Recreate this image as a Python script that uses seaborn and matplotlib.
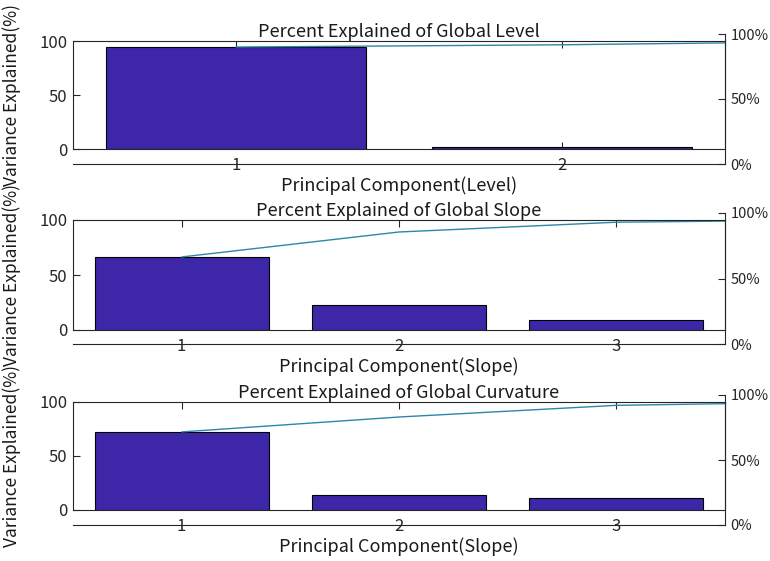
import numpy as np
import pandas as pd
import matplotlib
matplotlib.use("Agg")
import matplotlib.pyplot as plt
from matplotlib.ticker import FuncFormatter
import seaborn as sns

# Percent of variance explained by each principal component
level_explained = [94.4, 2.1, 3.5]
slope_explained = [66.4, 22.7, 8.9, 2.0]
curvature_explained = [72.3, 13.8, 10.8, 3.1]

titles = [
    "Percent Explained of Global Level",
    "Percent Explained of Global Slope",
    "Percent Explained of Global Curvature",
]
xlabels = [
    "Principal Component(Level)",
    "Principal Component(Slope)",
    "Principal Component(Slope)",
]
ylabel = "Variance Explained(%)"
pct_ticks = [0, 50, 100]
value_ticks = [0, 50, 100]

BAR_COLOR = "#3E26A8"
LINE_COLOR = "#2F86A8"
THRESHOLD = 95.0

sns.set_theme(style="white")
plt.rcParams["font.family"] = ["Noto Sans CJK JP", "DejaVu Sans"]
plt.rcParams["axes.edgecolor"] = "#262626"
plt.rcParams["axes.linewidth"] = 0.8

W, H = 770, 561
fig = plt.figure(figsize=(W / 100, H / 100), dpi=100)

# panel geometry in pixels: (box top, box bottom, outer top, outer bottom)
panels = [
    (41, 149, 34, 164),
    (220, 330, 213, 344),
    (402, 510, 395, 525),
]
X0, X1 = 73, 725

datasets = [level_explained, slope_explained, curvature_explained]

for data, title, xlab, (bt, bb, ot, ob) in zip(datasets, titles, xlabels, panels):
    vals = np.asarray(data, dtype=float)
    cum = np.cumsum(vals)
    # pareto: keep bars until the cumulative share reaches the threshold
    n = int(np.argmax(cum >= THRESHOLD)) + 1

    # outer axes carrying the percentage scale
    ax_r = fig.add_axes([X0 / W, 1 - ob / H, (X1 - X0) / W, (ob - ot) / H])
    ax_r.set_xlim(-0.5, n - 0.5)
    ax_r.set_ylim(0, 100)
    ax_r.set_facecolor("white")
    for side in ("top", "left"):
        ax_r.spines[side].set_visible(False)
    ax_r.set_xticks([])
    ax_r.yaxis.tick_right()
    ax_r.set_yticks(pct_ticks)
    ax_r.yaxis.set_major_formatter(FuncFormatter(lambda v, p: f"{v:.0f}%"))
    ax_r.tick_params(axis="y", direction="in", length=5, width=0.8,
                     labelsize=10.5, pad=4, colors="#262626", right=True)

    # inner axes with the bars
    ax = fig.add_axes([X0 / W, 1 - bb / H, (X1 - X0) / W, (bb - bt) / H])
    ax.set_facecolor("none")
    df = pd.DataFrame({"pc": [str(i + 1) for i in range(n)], "pct": vals[:n]})
    sns.barplot(data=df, x="pc", y="pct", ax=ax, color=BAR_COLOR,
                saturation=1, width=0.8, edgecolor="black", linewidth=0.8)
    line_df = pd.DataFrame({"pos": np.arange(len(cum)), "cum": cum})
    sns.lineplot(data=line_df, x="pos", y="cum", ax=ax, color=LINE_COLOR,
                 linewidth=1.0, clip_on=True)
    ax.set_xlim(-0.5, n - 0.5)
    ax.set_ylim(0, 100)
    ax.set_xticks(range(n))
    ax.set_xticklabels([str(i + 1) for i in range(n)])
    ax.set_yticks(value_ticks)
    ax.tick_params(axis="both", direction="in", length=5, width=0.8,
                   labelsize=12, colors="#262626", top=True, bottom=True,
                   left=True)
    ax.tick_params(axis="x", pad=6)
    ax.tick_params(axis="y", pad=4)
    for s in ax.spines.values():
        s.set_visible(True)
        s.set_color("#262626")
        s.set_linewidth(0.8)

    ax.set_title(title, fontsize=13, pad=3, color="#1a1a1a")
    ax.set_xlabel(xlab, fontsize=13, color="#1a1a1a")
    ax.xaxis.set_label_coords(0.5, -(37 / (bb - bt)))
    ax.xaxis.label.set_va("center")
    ax.set_ylabel(ylabel, fontsize=12.5, color="#1a1a1a")
    ax.yaxis.set_label_coords(-(52 / (X1 - X0)), 0.5)

fig.savefig("out.png", dpi=100, facecolor="white")
